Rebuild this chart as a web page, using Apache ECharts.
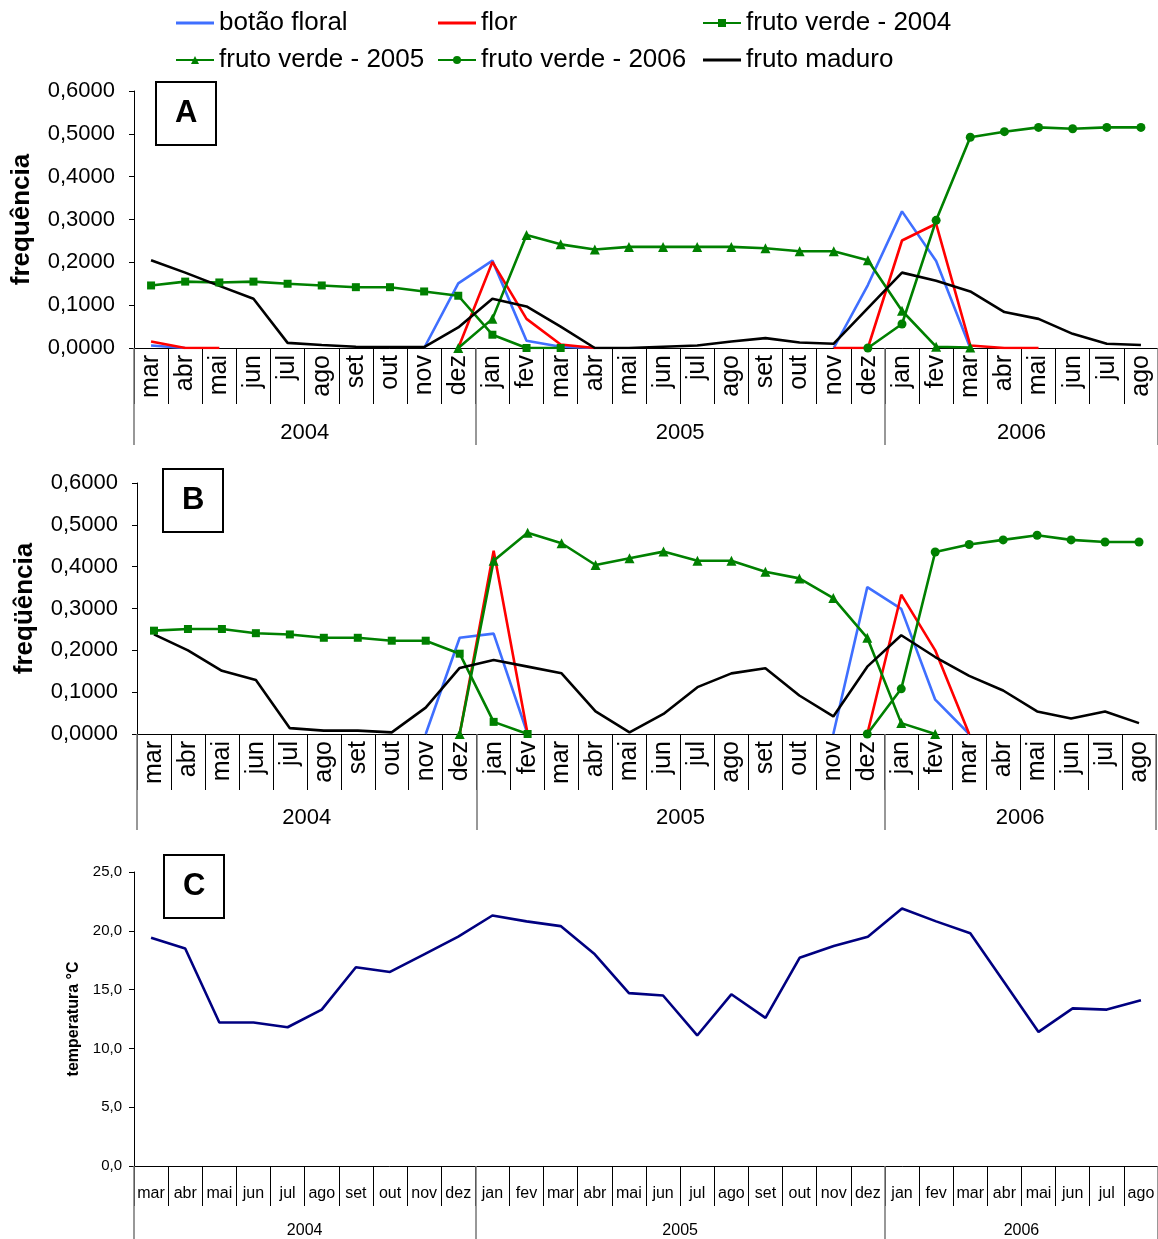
<!DOCTYPE html>
<html>
<head>
<meta charset="utf-8">
<style>
  html, body { margin: 0; padding: 0; background: #fff; }
  #chart { width: 1158px; height: 1239px; }
</style>
<script src="https://cdn.jsdelivr.net/npm/echarts@6/dist/echarts.min.js"></script>
</head>
<body>
<div id="chart"></div>
<script>
// Months from março/2004 to agosto/2006
const months = ['mar','abr','mai','jun','jul','ago','set','out','nov','dez',
                'jan','fev','mar','abr','mai','jun','jul','ago','set','out','nov','dez',
                'jan','fev','mar','abr','mai','jun','jul','ago'];
const yearNames = ['2004', '2005', '2006'];
const yearBounds = [0, 10, 22, 30];   // month index where each year starts / ends

// Painel A - frequência
const aBotao   = [0.006, 0, null, null, null, null, null, null, 0, 0.151, 0.204, 0.017, 0.003, 0, null, null, null, null, null, null, 0, 0.147, 0.319, 0.203, 0, null, null, null, null, null];
const aFlor    = [0.015, 0, 0, null, null, null, null, null, null, 0, 0.201, 0.068, 0.008, 0, null, null, null, null, null, null, 0, 0, 0.251, 0.290, 0.006, 0, 0, null, null, null];
const aFv2004  = [0.146, 0.155, 0.153, 0.155, 0.150, 0.146, 0.142, 0.142, 0.132, 0.122, 0.031, 0, 0, null, null, null, null, null, null, null, null, null, null, null, null, null, null, null, null, null];
const aFv2005  = [null, null, null, null, null, null, null, null, null, 0, 0.068, 0.264, 0.242, 0.230, 0.236, 0.236, 0.236, 0.236, 0.233, 0.226, 0.226, 0.205, 0.087, 0.003, 0.001, null, null, null, null, null];
const aFv2006  = [null, null, null, null, null, null, null, null, null, null, null, null, null, null, null, null, null, null, null, null, null, 0, 0.056, 0.298, 0.492, 0.505, 0.515, 0.512, 0.515, 0.515];
const aMaduro  = [0.205, 0.176, 0.145, 0.115, 0.012, 0.007, 0.003, 0.002, 0.002, 0.048, 0.115, 0.097, 0.050, 0, 0, 0.003, 0.006, 0.015, 0.023, 0.013, 0.010, 0.093, 0.176, 0.157, 0.132, 0.084, 0.068, 0.033, 0.010, 0.007];

// Painel B - freqüência
const bBotao   = [null, null, null, null, null, null, null, null, 0, 0.230, 0.240, 0, null, null, null, null, null, null, null, null, 0, 0.351, 0.299, 0.082, 0, null, null, null, null, null];
const bFlor    = [null, null, null, null, null, null, null, null, null, 0, 0.438, 0, null, null, null, null, null, null, null, null, null, 0, 0.333, 0.200, 0, null, null, null, null, null];
const bFv2004  = [0.247, 0.251, 0.251, 0.241, 0.238, 0.230, 0.230, 0.223, 0.223, 0.192, 0.029, 0, null, null, null, null, null, null, null, null, null, null, null, null, null, null, null, null, null, null];
const bFv2005  = [null, null, null, null, null, null, null, null, null, 0, 0.414, 0.481, 0.456, 0.404, 0.420, 0.436, 0.414, 0.414, 0.388, 0.372, 0.325, 0.230, 0.026, 0, null, null, null, null, null, null];
const bFv2006  = [null, null, null, null, null, null, null, null, null, null, null, null, null, null, null, null, null, null, null, null, null, 0, 0.108, 0.435, 0.453, 0.464, 0.475, 0.464, 0.459, 0.459];
const bMaduro  = [0.238, 0.200, 0.151, 0.129, 0.014, 0.008, 0.008, 0.004, 0.063, 0.158, 0.177, 0.161, 0.145, 0.054, 0.004, 0.048, 0.112, 0.145, 0.157, 0.092, 0.042, 0.161, 0.236, 0.184, 0.139, 0.104, 0.054, 0.037, 0.054, 0.026];

// Painel C - temperatura média mensal (°C)
const temperatura = [19.4, 18.5, 12.2, 12.2, 11.8, 13.3, 16.9, 16.5, 18.0, 19.5, 21.3, 20.8, 20.4, 18.0, 14.7, 14.5, 11.1, 14.6, 12.6, 17.7, 18.7, 19.5, 21.9, 20.8, 19.8, 15.6, 11.4, 13.4, 13.3, 14.1];

const FONT = 'Liberation Sans';
const GREEN = '#008000';
const LINE_ICON = 'path://M0,0H38V3H0Z';   // plain line legend key
const yearCenters = yearNames.map((_, i) => (yearBounds[i] + yearBounds[i + 1]) / 2);

const freqFmt = v => v.toFixed(4).replace('.', ',');
const tempFmt = v => v.toFixed(1).replace('.', ',');

// one month axis + one year axis per panel
function monthAxis(grid, o) {
  return {
    type: 'category', gridIndex: grid, data: months, position: 'bottom',
    boundaryGap: true,
    axisLine: { show: true, lineStyle: { color: '#000', width: 1 } },
    axisTick: { show: true, interval: 0, length: o.tickLen, lineStyle: { color: '#000', width: 1 } },
    axisLabel: { interval: 0, rotate: o.rotate, margin: o.margin, fontFamily: FONT, fontSize: o.fontSize, color: '#000' },
    splitLine: { show: false }
  };
}
function yearAxis(grid, o) {
  return {
    type: 'value', gridIndex: grid, min: 0, max: 30, position: 'bottom',
    axisLine: { show: false },
    splitLine: { show: false },
    axisTick: { show: true, customValues: yearBounds, length: o.tickLen, lineStyle: { color: '#777', width: 1.5 } },
    axisLabel: {
      customValues: yearCenters, margin: o.margin, fontFamily: FONT, fontSize: o.fontSize, color: '#000',
      formatter: v => yearNames[yearCenters.indexOf(v)]
    }
  };
}
function freqAxis(grid, name, gap) {
  return {
    type: 'value', gridIndex: grid, min: 0, max: 0.6, interval: 0.1,
    name: name, nameLocation: 'middle', nameGap: gap, nameRotate: 90,
    nameTextStyle: { fontFamily: FONT, fontSize: 26, fontWeight: 'bold', color: '#000' },
    axisLine: { show: true, lineStyle: { color: '#000', width: 1 } },
    axisTick: { show: true, length: 5, lineStyle: { color: '#000' } },
    axisLabel: { formatter: freqFmt, margin: 19, fontFamily: FONT, fontSize: 22, color: '#000' },
    splitLine: { show: false }
  };
}

function line(name, data, p, color, symbol, size) {
  return {
    type: 'line', name: name, data: data, xAxisIndex: p * 2, yAxisIndex: p,
    symbol: symbol || 'none', symbolSize: size || 0, showSymbol: !!symbol,
    lineStyle: { color: color, width: 2.6 },
    itemStyle: { color: color },
    connectNulls: false, animation: false, z: 2
  };
}

function freqSeries(p, s) {
  return [
    line('botão floral', s[0], p, '#3F6FFF'),
    line('flor', s[1], p, '#FF0000'),
    line('fruto verde - 2004', s[2], p, GREEN, 'rect', 8),
    line('fruto verde - 2005', s[3], p, GREEN, 'triangle', 10),
    line('fruto verde - 2006', s[4], p, GREEN, 'circle', 9),
    line('fruto maduro', s[5], p, '#000000')
  ];
}

function panelTitle(text, left, top) {
  return {
    text: text, left: left, top: top, padding: [16, 19, 16, 19],
    borderColor: '#000', borderWidth: 2,
    textStyle: { fontFamily: FONT, fontSize: 31, fontWeight: 'bold', color: '#000' }
  };
}

const legendBase = {
  orient: 'vertical', top: 9, itemWidth: 38, itemHeight: 10, itemGap: 9, padding: 0,
  selectedMode: false,
  textStyle: { fontFamily: FONT, fontSize: 26, color: '#000', lineHeight: 28 }
};

const option = {
  backgroundColor: '#fff',
  animation: false,
  title: [
    panelTitle('A', 156, 82),
    panelTitle('B', 163, 469),
    panelTitle('C', 164, 855)
  ],
  legend: [
    Object.assign({}, legendBase, { left: 175, data: [{ name: 'botão floral', icon: LINE_ICON }, 'fruto verde - 2005'] }),
    Object.assign({}, legendBase, { left: 437, data: [{ name: 'flor', icon: LINE_ICON }, 'fruto verde - 2006'] }),
    Object.assign({}, legendBase, { left: 702, data: ['fruto verde - 2004', { name: 'fruto maduro', icon: LINE_ICON }] })
  ],
  grid: [
    { left: 134, top: 91, width: 1024, height: 257 },
    { left: 137, top: 483, width: 1019, height: 251 },
    { left: 134, top: 872, width: 1024, height: 295 }
  ],
  xAxis: [
    monthAxis(0, { tickLen: 56, rotate: 90, margin: 7, fontSize: 25 }),
    yearAxis(0, { tickLen: 97, margin: 74, fontSize: 22 }),
    monthAxis(1, { tickLen: 56, rotate: 90, margin: 7, fontSize: 25 }),
    yearAxis(1, { tickLen: 96, margin: 73, fontSize: 22 }),
    monthAxis(2, { tickLen: 40, rotate: 0, margin: 20, fontSize: 16 }),
    yearAxis(2, { tickLen: 80, margin: 57, fontSize: 16 })
  ],
  yAxis: [
    freqAxis(0, 'frequência', 99),
    freqAxis(1, 'freqüência', 99),
    {
      type: 'value', gridIndex: 2, min: 0, max: 25, interval: 5,
      name: 'temperatura °C', nameLocation: 'middle', nameGap: 42, nameRotate: 90,
      nameTextStyle: { fontFamily: FONT, fontSize: 16, fontWeight: 'bold', color: '#000' },
      axisLine: { show: true, lineStyle: { color: '#000', width: 1 } },
      axisTick: { show: true, length: 5, lineStyle: { color: '#000' } },
      axisLabel: { formatter: tempFmt, margin: 12, fontFamily: FONT, fontSize: 15, color: '#000' },
      splitLine: { show: false }
    }
  ],
  series: [
    ...freqSeries(0, [aBotao, aFlor, aFv2004, aFv2005, aFv2006, aMaduro]),
    ...freqSeries(1, [bBotao, bFlor, bFv2004, bFv2005, bFv2006, bMaduro]),
    {
      type: 'line', name: 'temperatura', data: temperatura, xAxisIndex: 4, yAxisIndex: 2,
      symbol: 'none', showSymbol: false,
      lineStyle: { color: '#000080', width: 2.6 }, itemStyle: { color: '#000080' },
      animation: false
    }
  ]
};

const chart = echarts.init(document.getElementById('chart'), null, { renderer: 'canvas' });
chart.setOption(option);
</script>
</body>
</html>
